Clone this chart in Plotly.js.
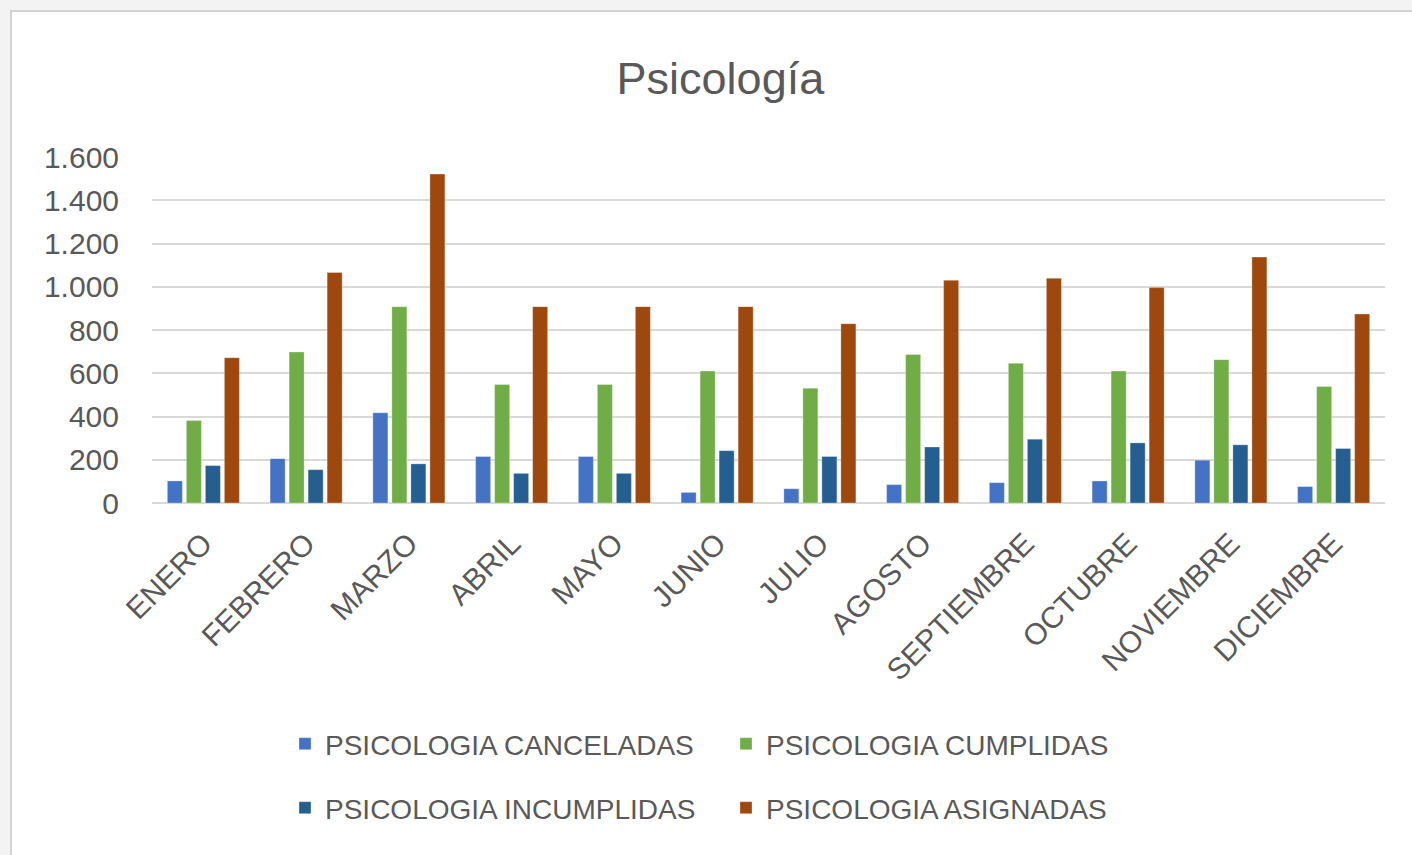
<!DOCTYPE html>
<html>
<head>
<meta charset="utf-8">
<script src="https://cdn.plot.ly/plotly-3.0.1.min.js"></script>
<style>
  html, body { margin: 0; padding: 0; background: #f3f3f3; width: 1412px; height: 855px; overflow: hidden; }
  #frame { position: absolute; left: 10px; top: 10px; width: 1400px; height: 843px; background: #ffffff;
           border-left: 2px solid #d4d4d4; border-top: 2px solid #d4d4d4; }
  #chart { width: 1400px; height: 843px; }
</style>
</head>
<body>
<div id="frame"><div id="chart"></div></div>
<script>
const months = ['ENERO','FEBRERO','MARZO','ABRIL','MAYO','JUNIO','JULIO','AGOSTO','SEPTIEMBRE','OCTUBRE','NOVIEMBRE','DICIEMBRE'];
const canceladas  = [102, 205, 417, 215, 215, 49, 66, 85, 94, 102, 198, 76];
const cumplidas   = [381, 698, 908, 548, 548, 610, 531, 687, 646, 610, 663, 539];
const incumplidas = [173, 154, 181, 137, 137, 242, 215, 259, 295, 278, 269, 252];
const asignadas   = [672, 1066, 1521, 908, 908, 908, 829, 1030, 1039, 996, 1137, 874];
const yTicks = [0, 200, 400, 600, 800, 1000, 1200, 1400, 1600];

const FONT = 'Liberation Sans, Arial, sans-serif';
const TXT = '#595959';

const traces = [
  {name: 'PSICOLOGIA CANCELADAS', y: canceladas, color: '#4472C4', legend: 'legend'},
  {name: 'PSICOLOGIA CUMPLIDAS', y: cumplidas, color: '#70AD47', legend: 'legend'},
  {name: 'PSICOLOGIA INCUMPLIDAS', y: incumplidas, color: '#255E91', legend: 'legend2'},
  {name: 'PSICOLOGIA ASIGNADAS', y: asignadas, color: '#9E480E', legend: 'legend2'}
].map(t => ({
  type: 'bar', x: months, y: t.y, name: t.name, legend: t.legend,
  marker: {color: t.color, line: {color: 'rgba(255,255,255,0.5)', width: 0.6}},
  hoverinfo: 'x+y+name'
}));

const legendBase = {
  orientation: 'h', xref: 'container', yref: 'container', x: 0.195, xanchor: 'left', yanchor: 'middle',
  font: {family: FONT, size: 28, color: TXT}, entrywidth: 396, entrywidthmode: 'pixels',
  bgcolor: 'rgba(0,0,0,0)', traceorder: 'normal'
};

const layout = {
  width: 1400, height: 843,
  margin: {l: 140, r: 27, t: 145, b: 352},
  paper_bgcolor: '#ffffff', plot_bgcolor: '#ffffff',
  separators: ',.',
  title: {text: 'Psicología', font: {family: FONT, size: 45, color: TXT},
          xref: 'container', x: 0.506, xanchor: 'center', yref: 'container', y: 0.922, yanchor: 'middle'},
  barmode: 'group', bargap: 0.26, bargroupgap: 0.21,
  xaxis: {
    type: 'category', tickangle: -45, showgrid: false, showline: false, zeroline: false, ticks: '',
    ticklabelstandoff: 16, tickfont: {family: FONT, size: 30, color: TXT}
  },
  yaxis: {
    range: [0, 1600], tickvals: yTicks, tickformat: ',d', showgrid: true, gridcolor: '#d9d9d9', gridwidth: 2,
    zeroline: true, zerolinecolor: '#d9d9d9', zerolinewidth: 2, showline: false, ticks: '',
    ticklabelstandoff: 32, tickfont: {family: FONT, size: 30, color: TXT}, fixedrange: true
  },
  legend: Object.assign({}, legendBase, {y: 1 - 732/843}),
  legend2: Object.assign({}, legendBase, {y: 1 - 796/843}),
  showlegend: true
};

Plotly.newPlot('chart', traces, layout, {displayModeBar: false, responsive: false});
</script>
</body>
</html>
